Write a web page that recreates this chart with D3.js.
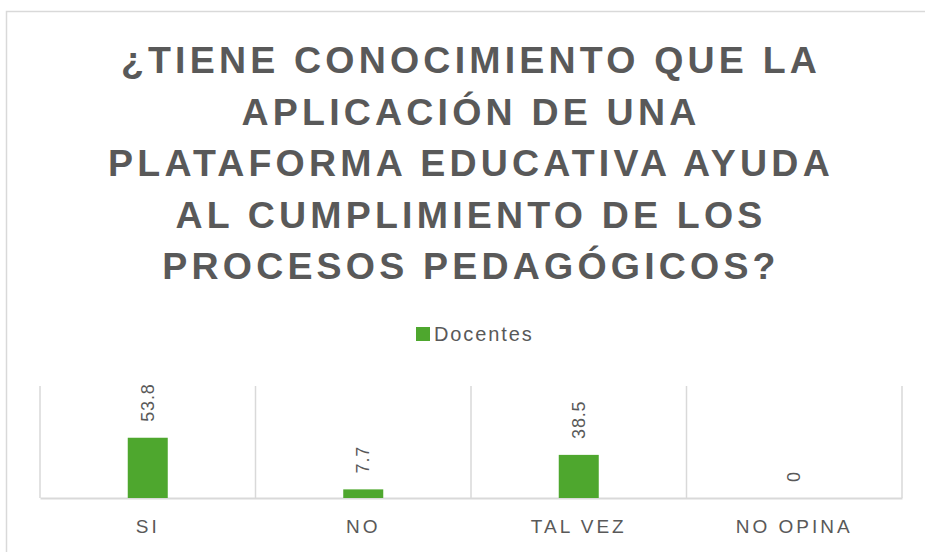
<!DOCTYPE html>
<html>
<head>
<meta charset="utf-8">
<script src="https://cdn.jsdelivr.net/npm/d3@7"></script>
<style>
  body { margin: 0; background: #fff; }
  svg { display: block; }
</style>
</head>
<body>
<div id="chart"></div>
<script>
const categories = ["SI", "NO", "TAL VEZ", "NO OPINA"];
const docentes = [53.8, 7.7, 38.5, 0];
const seriesName = "Docentes";
const titleLines = [
  "¿TIENE CONOCIMIENTO QUE LA",
  "APLICACIÓN DE UNA",
  "PLATAFORMA EDUCATIVA AYUDA",
  "AL CUMPLIMIENTO DE LOS",
  "PROCESOS PEDAGÓGICOS?"
];

const W = 925, H = 552;
const PLOT = { LEFT: 40, RIGHT: 902, TOP: 386, BOTTOM: 498 };
const TEXT_COLOR = "#595959";
const GRID_COLOR = "#d9d9d9";
const BAR_COLOR = "#4ea72e";

const svg = d3.select("#chart").append("svg")
  .attr("width", W)
  .attr("height", H);

// chart frame (runs off the right edge like the original)
svg.append("rect")
  .attr("x", 6.5).attr("y", 11.5)
  .attr("width", 940).attr("height", 600)
  .attr("fill", "none")
  .attr("stroke", GRID_COLOR)
  .attr("stroke-width", 1.5);

// title
svg.append("g").selectAll("text")
  .data(titleLines)
  .enter().append("text")
  .attr("x", 471)
  .attr("y", (d, i) => 73 + i * 51.6)
  .attr("text-anchor", "middle")
  .attr("font-family", "Liberation Sans, Arial, sans-serif")
  .attr("font-weight", "bold")
  .attr("font-size", "37.5px")
  .attr("letter-spacing", "4.2px")
  .attr("fill", TEXT_COLOR)
  .text(d => d);

// legend
const legend = svg.append("g").attr("transform", "translate(416, 327)");
legend.append("rect")
  .attr("width", 14).attr("height", 14)
  .attr("fill", BAR_COLOR);
legend.append("text")
  .attr("x", 18).attr("y", 14)
  .attr("font-family", "Liberation Sans, Arial, sans-serif")
  .attr("font-size", "20px")
  .attr("letter-spacing", "1.9px")
  .attr("fill", TEXT_COLOR)
  .text(seriesName);

const xScale = d3.scaleBand()
  .domain(categories)
  .range([PLOT.LEFT, PLOT.RIGHT])
  .padding(0);

const yScale = d3.scaleLinear()
  .domain([0, 100])
  .range([PLOT.BOTTOM, PLOT.TOP]);

// vertical separators between categories
const edges = categories.map(c => xScale(c)).concat([PLOT.RIGHT]);
svg.append("g").selectAll("line")
  .data(edges)
  .enter().append("line")
  .attr("x1", d => d).attr("x2", d => d)
  .attr("y1", PLOT.TOP).attr("y2", PLOT.BOTTOM)
  .attr("stroke", GRID_COLOR)
  .attr("stroke-width", 1.5);

// category axis
const xAxis = svg.append("g")
  .attr("transform", `translate(0, ${PLOT.BOTTOM})`)
  .call(d3.axisBottom(xScale).tickSize(0).tickPadding(22));
xAxis.select(".domain")
  .attr("stroke", GRID_COLOR)
  .attr("stroke-width", 2);
xAxis.selectAll("text")
  .attr("font-family", "Liberation Sans, Arial, sans-serif")
  .attr("font-size", "19px")
  .attr("letter-spacing", "3px")
  .attr("fill", TEXT_COLOR);

const data = categories.map((c, i) => ({ cat: c, value: docentes[i] }));
const barW = 40;

svg.append("g").selectAll("rect")
  .data(data)
  .enter().append("rect")
  .attr("x", d => xScale(d.cat) + xScale.bandwidth() / 2 - barW / 2)
  .attr("y", d => yScale(d.value))
  .attr("width", barW)
  .attr("height", d => PLOT.BOTTOM - yScale(d.value))
  .attr("fill", BAR_COLOR);

// value labels, rotated
svg.append("g").selectAll("text")
  .data(data)
  .enter().append("text")
  .attr("transform", d => `translate(${xScale(d.cat) + xScale.bandwidth() / 2 + 6}, ${yScale(d.value) - 16}) rotate(-90)`)
  .attr("text-anchor", "start")
  .attr("font-family", "Liberation Sans, Arial, sans-serif")
  .attr("font-size", "18px")
  .attr("letter-spacing", "0.8px")
  .attr("fill", TEXT_COLOR)
  .text(d => d.value);
</script>
</body>
</html>
